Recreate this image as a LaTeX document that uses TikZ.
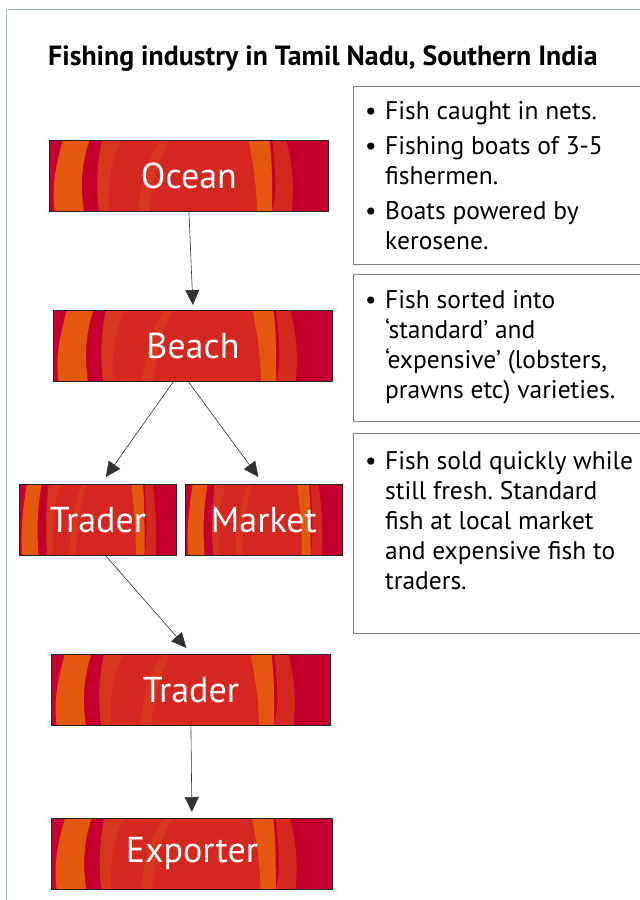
\documentclass[tikz,border=0pt]{standalone}
\usepackage{fontspec}
\setmainfont{PT Sans}
\usetikzlibrary{arrows.meta,calc}
\frenchspacing
\definecolor{crim}{HTML}{C4002F}
\definecolor{redm}{HTML}{D3271F}
\definecolor{redo}{HTML}{D8361C}
\definecolor{orng}{HTML}{E5580F}
\definecolor{frame}{HTML}{A9BFB6}
\newcommand\bul{\makebox[20pt][l]{\textbullet}}
\newcommand\ind{\hspace*{20pt}}
\newcommand\texture[4]{%
\begin{scope}[shift={(#1,#2)},x=#3pt,y=-#4pt]
 \fill[crim] (0,0) rectangle (1,1);
 \fill[orng] (0.05,0) .. controls (0.02,0.4) and (0.01,0.7) .. (0.02,1) -- (0.125,1) .. controls (0.11,0.6) and (0.12,0.3) .. (0.145,0) -- cycle;
 \fill[redm] (0.19,0) .. controls (0.17,0.4) and (0.17,0.7) .. (0.18,1) -- (0.755,1) .. controls (0.745,0.6) and (0.74,0.3) .. (0.72,0) -- cycle;
 \fill[redo] (0.19,0) .. controls (0.17,0.4) and (0.17,0.7) .. (0.18,1) -- (0.215,1) .. controls (0.21,0.6) and (0.22,0.3) .. (0.26,0) -- cycle;
 \fill[redo] (0.40,0) .. controls (0.35,0.3) and (0.33,0.6) .. (0.32,1) -- (0.36,1) .. controls (0.37,0.6) and (0.39,0.3) .. (0.43,0) -- cycle;
 \fill[orng] (0.715,0) .. controls (0.735,0.4) and (0.745,0.7) .. (0.745,1) -- (0.80,1) .. controls (0.80,0.6) and (0.80,0.3) .. (0.79,0) -- cycle;
 \fill[redm] (0.80,0) .. controls (0.81,0.4) and (0.82,0.7) .. (0.80,1) -- (0.87,1) .. controls (0.88,0.6) and (0.87,0.3) .. (0.85,0) -- cycle;
\end{scope}}
\newcommand\redbox[6]{%
\texture{#2}{#3}{#4}{#5}
\node[rbox,minimum width=#4pt,minimum height=#5pt,anchor=north west] (#1) at (#2,#3) {#6};}
\begin{document}
\begin{tikzpicture}[x=1pt,y=-1pt,
  rbox/.style={draw=black!85,line width=0.8pt,inner sep=0pt,text=white,font=\fontsize{36}{40}\selectfont},
  infobox/.style={draw=black!50,line width=1pt,fill=white,inner sep=0pt,anchor=north west},
  infotext/.style={anchor=north west,align=left,inner sep=0pt,font=\fontsize{25.5}{30}\selectfont},
  conn/.style={draw=black!80,line width=0.6pt,-{Triangle[length=15pt,width=14pt]}}]
\useasboundingbox (0,0) rectangle (640,900);
\draw[frame,line width=1pt] (6,900) -- (6,9) -- (640,9);
\node[anchor=base west,inner sep=0pt,font=\fontsize{27.8}{30}\selectfont\bfseries] (title) at (48,65) {Fishing industry in Tamil Nadu, Southern India};
\redbox{ocean}{49}{140}{279}{71}{Ocean}
\redbox{beach}{53}{310}{279}{71}{Beach}
\redbox{trader}{19}{484}{157}{71}{Trader}
\redbox{market}{185}{484}{157}{71}{Market}
\redbox{trader2}{51}{654}{279}{71}{Trader}
\redbox{exporter}{51}{818}{281}{71}{Exporter}
\node[infobox,minimum width=287pt,minimum height=178pt] (info1) at (353,86) {};
\node[infobox,minimum width=287pt,minimum height=147pt] (info2) at (353,274) {};
\node[infobox,minimum width=287pt,minimum height=200pt] (info3) at (353,433) {};
\node[infotext] (t1) at ($(info1.north west)+(12,15)$) {\bul Fish caught in nets.\\[5pt]\bul Fishing boats of 3-5\\\ind fishermen.\\[5pt]\bul Boats powered by\\\ind kerosene.};
\node[infotext] (t2) at ($(info2.north west)+(12,16)$) {\bul Fish sorted into\\\ind ‘standard’ and\\\ind ‘expensive’ (lobsters,\\\ind prawns etc) varieties.};
\node[infotext] (t3) at ($(info3.north west)+(12,18)$) {\bul Fish sold quickly while\\\ind still fresh. Standard\\\ind fish at local market\\\ind and expensive fish to\\\ind traders.};
\draw[conn] (ocean.south) -- ($(beach.north)+(0,-5)$);
\draw[conn] ($(beach.south west)!0.43!(beach.south east)$) -- ($(trader.north west)!0.55!(trader.north east)+(0,-7)$);
\draw[conn] ($(beach.south west)!0.484!(beach.south east)$) -- ($(market.north west)!0.465!(market.north east)+(0,-7)$);
\draw[conn] ($(trader.south west)!0.55!(trader.south east)$) -- ($(trader2.north west)!0.484!(trader2.north east)+(0,-6)$);
\draw[conn] (trader2.south) -- ($(exporter.north)+(0,-6)$);
\end{tikzpicture}
\end{document}
